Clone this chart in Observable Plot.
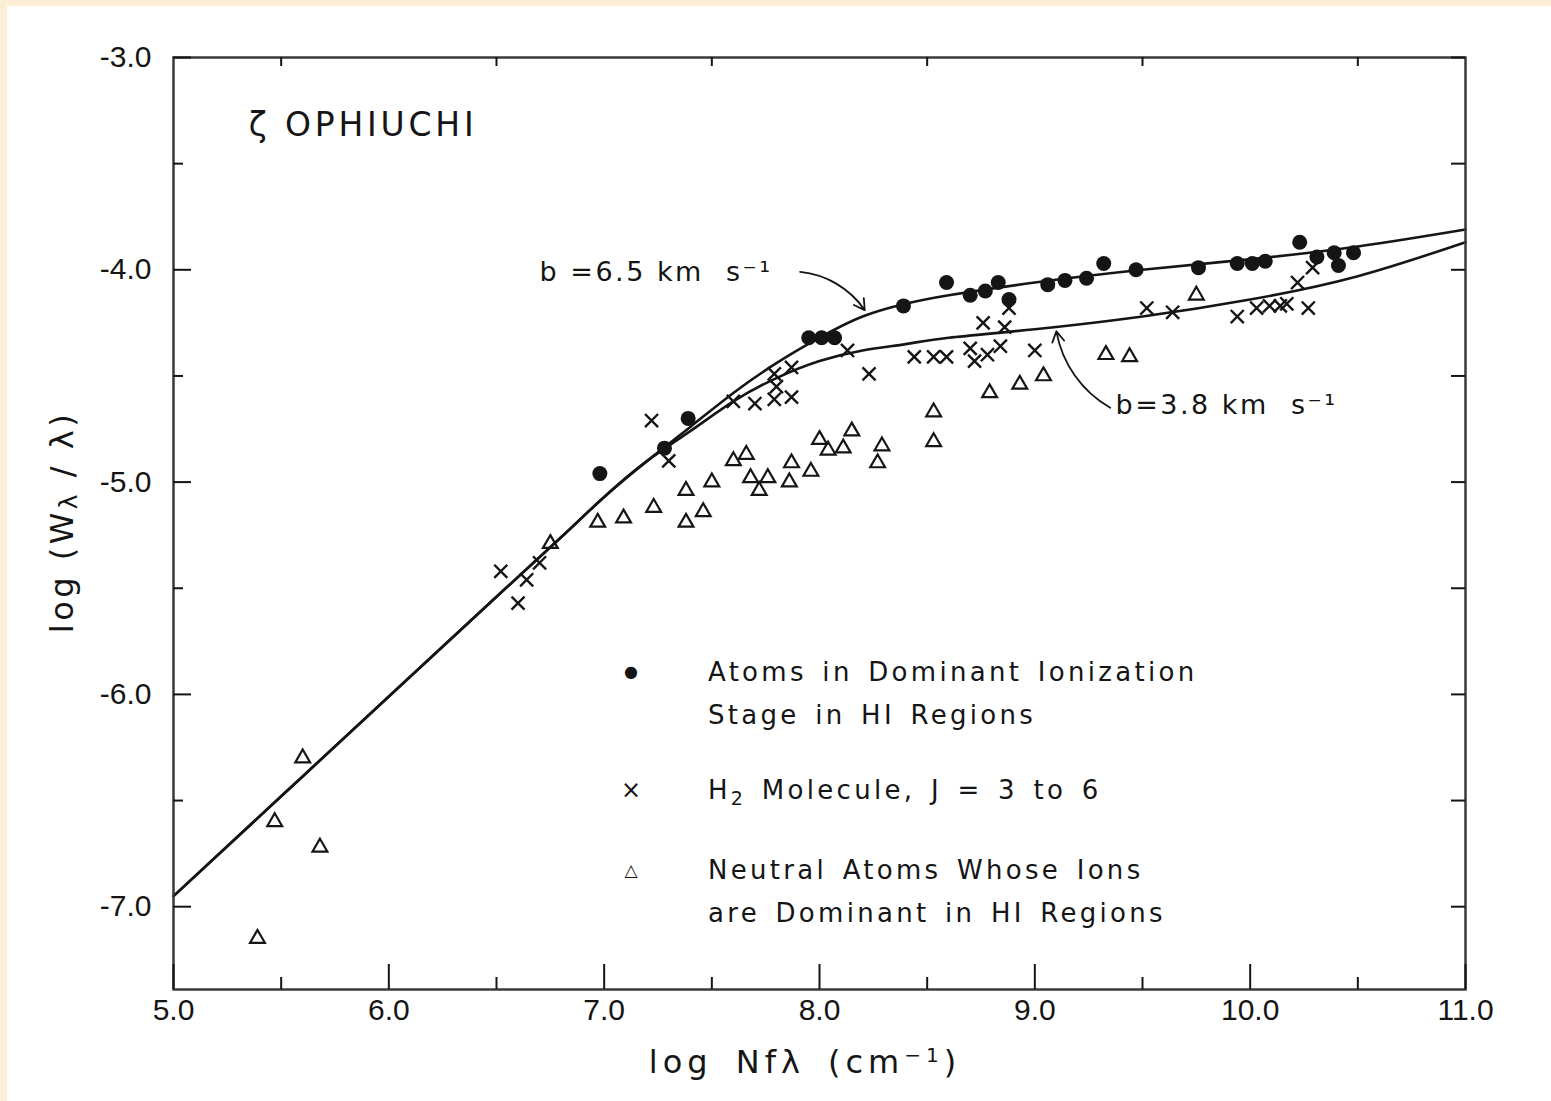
<!DOCTYPE html>
<html><head><meta charset="utf-8">
<script src="https://cdn.jsdelivr.net/npm/d3@7"></script>
<script src="https://cdn.jsdelivr.net/npm/@observablehq/plot@0.6"></script>
<style>
body{margin:0;background:#fcefd6;width:1551px;height:1101px;overflow:hidden;font-family:"DejaVu Sans",sans-serif;color:#151515}
#panel{position:absolute;left:7px;top:6px;width:1544px;height:1095px;background:#fff}
#chart{position:absolute;left:0;top:0}
.lab{position:absolute;white-space:nowrap;color:#151515}
.legm{position:absolute;transform:translate(-50%,-50%);color:#151515;line-height:1}
.legt{position:absolute;font-size:26px;letter-spacing:3.3px;word-spacing:4px;line-height:43px;white-space:nowrap}
</style></head>
<body>
<div id="panel"></div>
<div id="chart"></div>
<script>
// ---- data ----
const xMajor = [5, 6, 7, 8, 9, 10, 11];
const xMinor = [5.5, 6.5, 7.5, 8.5, 9.5, 10.5];
const yMajor = [-3, -4, -5, -6, -7];
const yMinor = [-3.5, -4.5, -5.5, -6.5];

// Atoms in dominant ionization stage (filled circles)
const atoms = [
  [6.98,-4.96],[7.28,-4.84],[7.39,-4.70],[7.95,-4.32],[8.01,-4.32],[8.07,-4.32],
  [8.39,-4.17],[8.59,-4.06],[8.70,-4.12],[8.77,-4.10],[8.83,-4.06],[8.88,-4.14],
  [9.06,-4.07],[9.14,-4.05],[9.24,-4.04],[9.32,-3.97],[9.47,-4.00],[9.76,-3.99],
  [9.94,-3.97],[10.01,-3.97],[10.07,-3.96],[10.23,-3.87],[10.31,-3.94],[10.39,-3.92],
  [10.41,-3.98],[10.48,-3.92]
];
// H2 molecule J = 3 to 6 (crosses)
const h2 = [
  [6.52,-5.42],[6.60,-5.57],[6.64,-5.46],[6.70,-5.38],[7.22,-4.71],[7.30,-4.90],
  [7.60,-4.62],[7.70,-4.63],[7.79,-4.61],[7.79,-4.49],[7.80,-4.55],[7.87,-4.46],
  [7.87,-4.60],[8.13,-4.38],[8.23,-4.49],[8.44,-4.41],[8.53,-4.41],[8.59,-4.41],
  [8.70,-4.37],[8.72,-4.43],[8.78,-4.40],[8.76,-4.25],[8.86,-4.27],[8.84,-4.36],
  [8.88,-4.18],[9.00,-4.38],[9.52,-4.18],[9.64,-4.20],[9.94,-4.22],[10.03,-4.18],
  [10.09,-4.17],[10.14,-4.17],[10.17,-4.16],[10.22,-4.06],[10.27,-4.18],[10.29,-3.99]
];
// Neutral atoms whose ions are dominant (triangles)
const neutrals = [
  [5.39,-7.15],[5.47,-6.60],[5.60,-6.30],[5.68,-6.72],[6.75,-5.29],[6.97,-5.19],
  [7.09,-5.17],[7.23,-5.12],[7.38,-5.19],[7.46,-5.14],[7.38,-5.04],[7.50,-5.00],
  [7.60,-4.90],[7.66,-4.87],[7.68,-4.98],[7.72,-5.04],[7.76,-4.98],[7.86,-5.00],
  [7.87,-4.91],[7.96,-4.95],[8.00,-4.80],[8.04,-4.85],[8.11,-4.84],[8.15,-4.76],
  [8.27,-4.91],[8.29,-4.83],[8.53,-4.67],[8.53,-4.81],[8.79,-4.58],[8.93,-4.54],
  [9.04,-4.50],[9.33,-4.40],[9.44,-4.41],[9.75,-4.12]
];
// curves of growth
const curveB65 = [
  [5.0,-6.95],[5.5,-6.48],[6.0,-6.01],[6.5,-5.54],[6.8,-5.26],[7.0,-5.07],[7.2,-4.90],
  [7.4,-4.74],[7.6,-4.58],[7.8,-4.44],[8.0,-4.32],[8.2,-4.22],[8.4,-4.16],[8.6,-4.12],
  [9.0,-4.06],[9.5,-4.00],[10.0,-3.95],[10.5,-3.89],[11.0,-3.81]
];
const curveB38 = [
  [5.0,-6.95],[5.5,-6.48],[6.0,-6.01],[6.5,-5.54],[6.8,-5.26],[7.0,-5.07],[7.2,-4.90],
  [7.4,-4.76],[7.6,-4.62],[7.8,-4.51],[8.0,-4.43],[8.2,-4.38],[8.4,-4.35],[8.6,-4.32],
  [9.0,-4.28],[9.5,-4.22],[10.0,-4.14],[10.5,-4.03],[11.0,-3.87]
];
const annotations = [
  {x:5.35, y:-3.32, text:"ζ OPHIUCHI", size:33, spacing:3.8},
  {x:6.70, y:-4.01, text:"b =6.5 km  s⁻¹", size:27, spacing:2.5},
  {x:9.375, y:-4.64, text:"b=3.8 km  s⁻¹", size:27, spacing:2.5}
];
const arrows = [
  {x1:7.91, y1:-4.01, x2:8.21, y2:-4.19},
  {x1:9.35, y1:-4.65, x2:9.10, y2:-4.29}
];

// ---- drawing ----
const W = 1551, H = 1101, mL = 173, mR = 86, mT = 57, mB = 112;
const pw = W - mL - mR, ph = H - mT - mB;
const ink = "#151515";
const toXY = a => a.map(([x, y]) => ({x, y}));
const fmt = d => d.toFixed(1);

const chart = Plot.plot({
  width: W, height: H,
  marginLeft: mL, marginRight: mR, marginTop: mT, marginBottom: mB,
  x: {domain: [5, 11], label: null},
  y: {domain: [-7.39, -3.0], label: null},
  style: {background: "transparent", fontFamily: '"Liberation Sans", Arial, sans-serif', color: ink},
  marks: [
    Plot.line(toXY(curveB65), {x: "x", y: "y", stroke: ink, strokeWidth: 2.6, curve: "natural"}),
    Plot.line(toXY(curveB38), {x: "x", y: "y", stroke: ink, strokeWidth: 2.6, curve: "natural"}),
    Plot.dot(toXY(neutrals), {x: "x", y: "y", symbol: "triangle", r: 5.5, stroke: ink, strokeWidth: 2.2, fill: "none"}),
    Plot.dot(toXY(h2), {x: "x", y: "y", symbol: "times", r: 6, stroke: ink, strokeWidth: 2.4}),
    Plot.dot(toXY(atoms), {x: "x", y: "y", r: 7.5, fill: ink, stroke: null}),
    Plot.frame({stroke: "#3a3a3a", strokeWidth: 2.5}),
    Plot.tickX(xMajor, {x: d => d, insetTop: ph - 25, stroke: ink, strokeWidth: 2}),
    Plot.tickX(xMinor, {x: d => d, insetTop: ph - 12, stroke: ink, strokeWidth: 2}),
    Plot.tickX(xMinor, {x: d => d, insetBottom: ph - 9, stroke: ink, strokeWidth: 2}),
    Plot.tickY(yMajor, {y: d => d, insetRight: pw - 18, stroke: ink, strokeWidth: 2}),
    Plot.tickY(yMinor, {y: d => d, insetRight: pw - 10, stroke: ink, strokeWidth: 2}),
    Plot.tickY(yMajor.concat(yMinor), {y: d => d, insetLeft: pw - 14, stroke: ink, strokeWidth: 2}),
    Plot.axisX(xMajor, {tickSize: 0, tickPadding: 9, tickFormat: fmt, fontSize: 30, label: null, fill: ink}),
    Plot.axisY(yMajor, {tickSize: 0, tickPadding: 22, tickFormat: fmt, fontSize: 30, label: null, fill: ink}),
    Plot.text(annotations, {x: "x", y: "y", text: "text", fontSize: d => d.size, fontFamily: '"DejaVu Sans", sans-serif', textAnchor: "start", fill: ink}),
    Plot.arrow(arrows, {x1: "x1", y1: "y1", x2: "x2", y2: "y2", bend: 25, headLength: 10, stroke: ink, strokeWidth: 1.8})
  ]
});
d3.select(chart).selectAll('g[aria-label="text"] text').attr("letter-spacing", (d, i) => annotations[i] ? annotations[i].spacing : 2.5);
document.getElementById("chart").appendChild(chart);
</script>

<div class="lab" style="left:62px;top:522px;transform:translate(-50%,-50%) rotate(-90deg);font-size:32px;letter-spacing:3.5px">log (W<span style="font-size:25px;position:relative;top:4px">λ</span> / λ)</div>
<div class="lab" style="left:805px;top:1062px;transform:translate(-50%,-50%);font-size:32px;letter-spacing:5px;word-spacing:8px">log Nfλ (cm<sup style="font-size:20px">−1</sup>)</div>

<div class="legm" style="left:631px;top:672px;font-size:16px">●</div>
<div class="legt" style="left:708px;top:651px">Atoms in Dominant Ionization<br>Stage in HI Regions</div>
<div class="legm" style="left:631px;top:790px;font-size:24px">×</div>
<div class="legt" style="left:708px;top:769px">H<sub style="font-size:19px">2</sub> Molecule, J = 3 to 6</div>
<div class="legm" style="left:631px;top:870px;font-size:17px">△</div>
<div class="legt" style="left:708px;top:849px">Neutral Atoms Whose Ions<br>are Dominant in HI Regions</div>
</body></html>
